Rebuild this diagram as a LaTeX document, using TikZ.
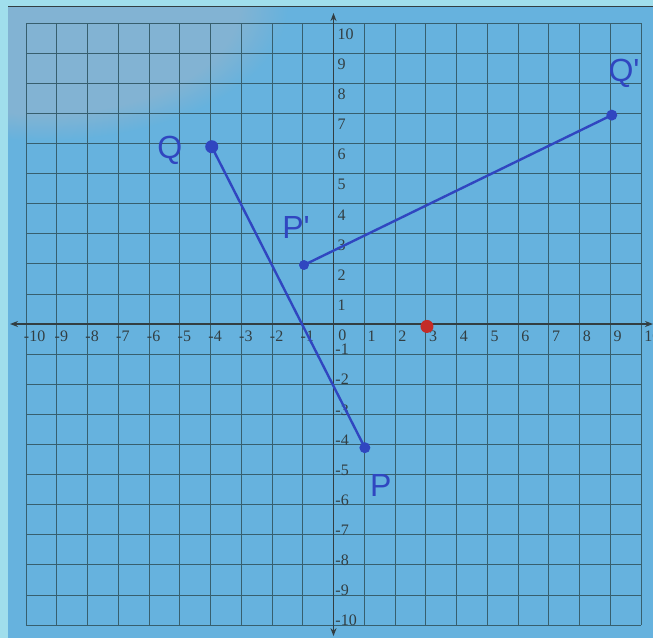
\documentclass[tikz,border=0pt]{standalone}
\usepackage{fontspec}
\setmainfont{Liberation Serif}
\newfontfamily\inkfont{Liberation Sans}
\usetikzlibrary{arrows.meta, fadings}
\definecolor{PaperBlue}{RGB}{102, 178, 222}
\definecolor{PaperGray}{RGB}{165, 182, 198}
\definecolor{MarginCyan}{RGB}{160, 222, 236}
\definecolor{GridTeal}{RGB}{55, 95, 110}
\definecolor{AxisGray}{RGB}{50, 62, 66}
\definecolor{InkBlue}{RGB}{48, 70, 192}
\definecolor{MarkRed}{RGB}{196, 44, 40}
\tikzset{
  gridline/.style={draw=GridTeal, line width=0.8pt},
  axisline/.style={{Stealth[length=8pt, width=6pt]}-{Stealth[length=8pt, width=6pt]},
                   line width=1.3pt, color=AxisGray},
  ticklbl/.style={inner sep=0pt, text=AxisGray,
                  font=\fontsize{16}{16}\selectfont},
  ptdot/.style={circle, fill=#1, inner sep=0pt, minimum size=11pt},
  seg/.style={line width=2.4pt, color=InkBlue, line cap=round},
  inklbl/.style={inner sep=0pt, text=InkBlue,
                 font=\inkfont\fontsize{32}{32}\selectfont},
}

\begin{document}
\begin{tikzpicture}[x=30.75pt, y=30.1pt]
  \useasboundingbox[fill=MarginCyan] (-10.8455,-10.4319) rectangle (10.3902,10.7641);

  % paper
  \fill[PaperBlue] (-10.585,-10.4319) rectangle (10.3902,10.532);
  \begin{scope}
    \clip (-10.585,-10.4319) rectangle (10.3902,10.532);
    \fill[PaperGray, fill opacity=0.45, path fading=circle with fuzzy edge 20 percent]
      (-9.5,10.6) ellipse (8 and 4.5);
  \end{scope}
  \draw[line width=1pt, AxisGray] (-10.585,10.532) -- (10.3902,10.532);

  \draw[gridline, step={(1,1)}] (-10,-10) grid (10,10);

  % axes
  \coordinate (xw) at (-10.52,0);
  \coordinate (xe) at (10.39,0);
  \coordinate (yn) at (0,10.33);
  \coordinate (ys) at (0,-10.37);
  \draw[axisline] (xw) -- (xe);
  \draw[axisline] (ys) -- (yn);

  \node[ticklbl, anchor=north west] (x0) at (0.15,-0.2) {0};
  \foreach \k in {1,...,10} {
    \node[ticklbl, anchor=north west] (xp\k) at (\k+0.1,-0.23) {\k};
    \node[ticklbl, anchor=north west] (xn\k) at (-\k+0.1,-0.23) {\llap{-}\k};
    \node[ticklbl, anchor=west] (yp\k) at (0.13,\k-0.37) {\k};
    \node[ticklbl, anchor=west] (yn\k) at (0.23,-\k+0.15) {\llap{-}\k};
  }

  % segments
  \coordinate (Q) at (-3.96,5.89);
  \coordinate (P) at (1.02,-4.11);
  \coordinate (Pp) at (-0.96,1.96);
  \coordinate (Qp) at (9.05,6.94);
  \draw[seg] (Q) -- (P);
  \draw[seg] (Pp) -- (Qp);

  \node[ptdot=InkBlue, minimum size=13pt] (Qdot) at (Q) {};
  \node[ptdot=InkBlue] (Pdot) at (P) {};
  \node[ptdot=InkBlue, minimum size=10pt] (Ppdot) at (Pp) {};
  \node[ptdot=InkBlue] (Qpdot) at (Qp) {};
  \node[ptdot=MarkRed, minimum size=13pt] (C) at (3.04,-0.08) {};

  \node[inklbl] (lQ) at (-5.32,5.78) {Q};
  \node[inklbl] (lPp) at (-1.22,3.19) {P\textquotesingle};
  \node[inklbl] (lP) at (1.54,-5.38) {P};
  \node[inklbl] (lQp) at (9.45,8.34) {Q\textquotesingle};
\end{tikzpicture}
\end{document}
